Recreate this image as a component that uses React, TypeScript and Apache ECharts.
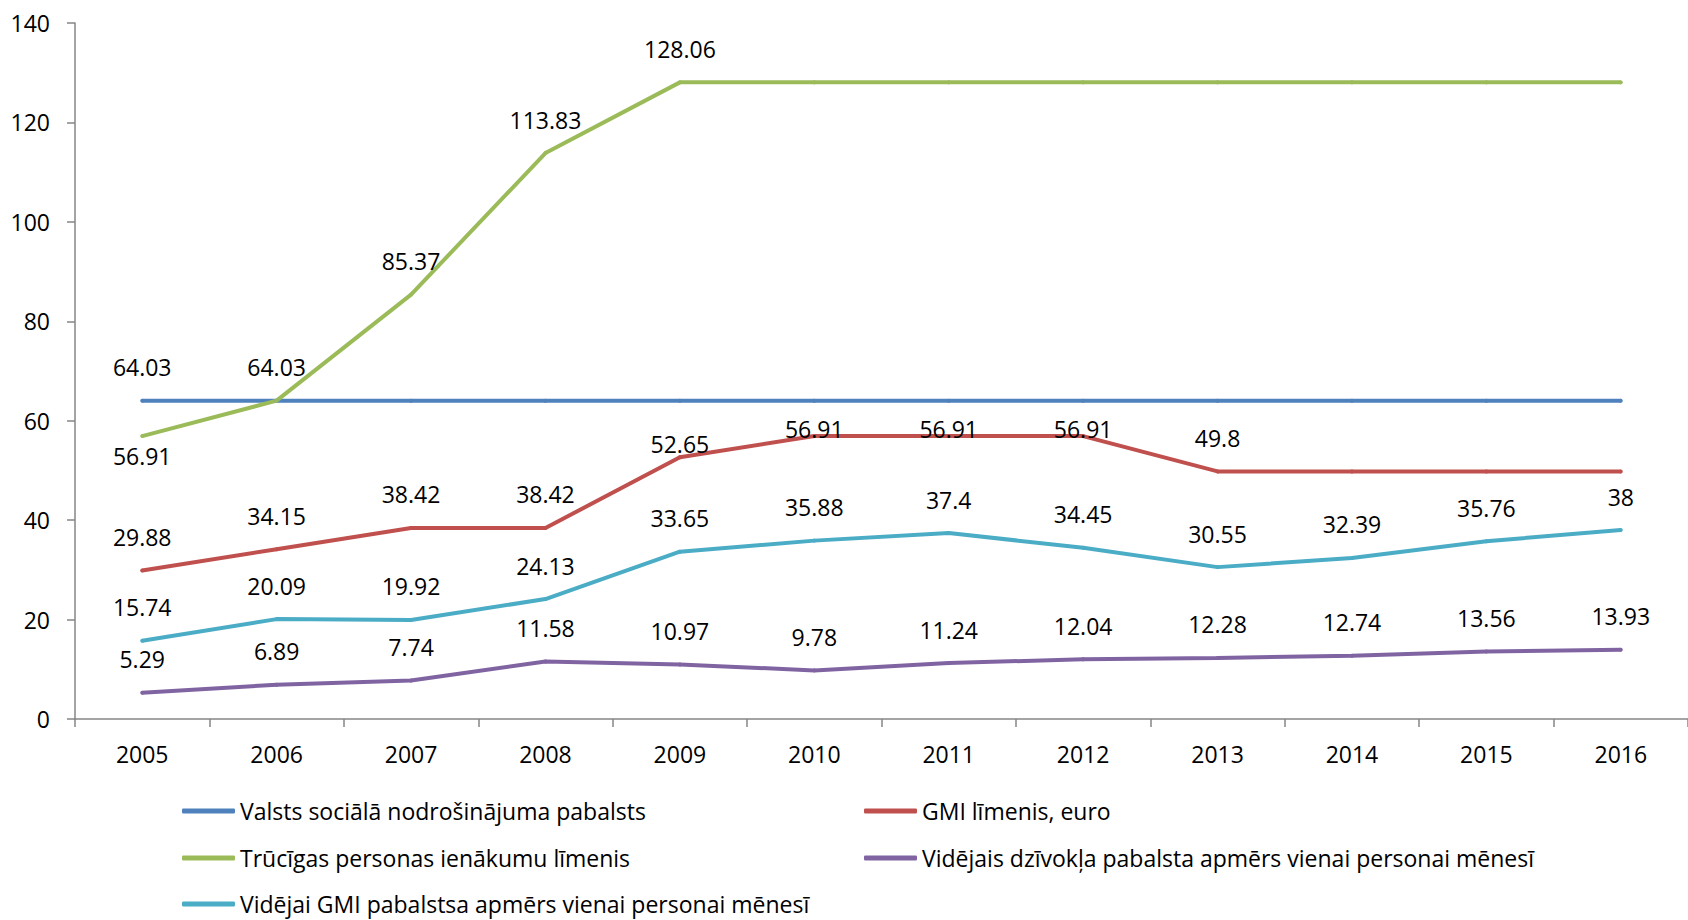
import React, { useEffect, useRef } from "react";
import * as echarts from "echarts";

const years = ["2005", "2006", "2007", "2008", "2009", "2010", "2011", "2012", "2013", "2014", "2015", "2016"];

const seriesNames = [
  "Valsts sociālā nodrošinājuma pabalsts",
  "GMI līmenis, euro",
  "Trūcīgas personas ienākumu līmenis",
  "Vidējais dzīvokļa pabalsta apmērs vienai personai mēnesī",
  "Vidējai GMI pabalstsa apmērs vienai personai mēnesī",
];

const valstsPabalsts = [64.03, 64.03, 64.03, 64.03, 64.03, 64.03, 64.03, 64.03, 64.03, 64.03, 64.03, 64.03];
const gmiLimenis = [29.88, 34.15, 38.42, 38.42, 52.65, 56.91, 56.91, 56.91, 49.8, 49.8, 49.8, 49.8];
const trucigasLimenis = [56.91, 64.03, 85.37, 113.83, 128.06, 128.06, 128.06, 128.06, 128.06, 128.06, 128.06, 128.06];
const dzivoklaPabalsts = [5.29, 6.89, 7.74, 11.58, 10.97, 9.78, 11.24, 12.04, 12.28, 12.74, 13.56, 13.93];
const gmiPabalsts = [15.74, 20.09, 19.92, 24.13, 33.65, 35.88, 37.4, 34.45, 30.55, 32.39, 35.76, 38];

const yTicks = { min: 0, max: 140, interval: 20 };

const colors = ["#4F81BD", "#C0504D", "#9BBB59", "#8064A2", "#4BACC6"];

// which points carry a visible value label
const labelShown: boolean[][] = [
  [true, true, false, false, false, false, false, false, false, false, false, false],
  [true, true, true, true, true, true, true, true, true, false, false, false],
  [true, false, true, true, true, false, false, false, false, false, false, false],
  years.map(() => true),
  years.map(() => true),
];

const FONT = "'Open Sans', 'Liberation Sans', Arial, sans-serif";
const FS = 23;

// legend slot for each series: [left, centerY]
const legendSlots: [number, number][] = [
  [182, 811],
  [864, 811],
  [182, 858],
  [864, 858],
  [182, 904],
];

export default function App() {
  const ref = useRef<HTMLDivElement>(null);

  useEffect(() => {
    if (!ref.current) return;
    const chart = echarts.init(ref.current, undefined, { renderer: "svg" });

    const allValues = [valstsPabalsts, gmiLimenis, trucigasLimenis, dzivoklaPabalsts, gmiPabalsts];

    const labelTweak = (s: number, i: number): any => {
      if (s === 2 && i === 0) return { position: "bottom", distance: 6 };
      if (s === 1 && i === 4) return { offset: [0, 20] };
      if (s === 1 && i >= 5 && i <= 7) return { offset: [0, 26] };
      return {};
    };

    const series = allValues.map((vals, s) => ({
      name: seriesNames[s],
      type: "line",
      symbol: "circle",
      symbolSize: 4,
      showSymbol: true,
      itemStyle: { color: colors[s] },
      lineStyle: { color: colors[s], width: 4 },
      data: vals.map((v, i) => ({
        value: v,
        label: {
          show: labelShown[s][i],
          position: "top",
          distance: 20,
          color: "#000",
          fontSize: FS,
          fontFamily: FONT,
          ...labelTweak(s, i),
        },
      })),
    }));

    const legends = seriesNames.map((name, s) => ({
      orient: "horizontal",
      left: legendSlots[s][0],
      top: legendSlots[s][1] - 12,
      padding: 0,
      itemWidth: 53,
      itemHeight: 5,
      icon: "roundRect",
      selectedMode: false,
      data: [name],
      textStyle: { color: "#000", fontSize: FS, fontFamily: FONT, lineHeight: 24 },
    }));

    chart.setOption({
      animation: false,
      backgroundColor: "#fff",
      textStyle: { fontFamily: FONT },
      grid: { left: 75, top: 23, width: 1616, height: 696, containLabel: false },
      legend: legends,
      xAxis: {
        type: "category",
        data: years,
        boundaryGap: true,
        axisLine: { lineStyle: { color: "#868686", width: 1.5 } },
        axisTick: { show: true, length: 8, lineStyle: { color: "#868686", width: 1.5 } },
        axisLabel: { color: "#000", fontSize: FS, fontFamily: FONT, margin: 23 },
        splitLine: { show: false },
      },
      yAxis: {
        type: "value",
        min: yTicks.min,
        max: yTicks.max,
        interval: yTicks.interval,
        axisLine: { show: true, lineStyle: { color: "#868686", width: 1.5 } },
        axisTick: { show: true, length: 8, lineStyle: { color: "#868686", width: 1.5 } },
        axisLabel: { color: "#000", fontSize: FS, fontFamily: FONT, margin: 25 },
        splitLine: { show: false },
      },
      series,
    });

    return () => chart.dispose();
  }, []);

  return (
    <div
      ref={ref}
      style={{ position: "fixed", left: 0, top: 0, width: 1688, height: 920, background: "#fff" }}
    />
  );
}
